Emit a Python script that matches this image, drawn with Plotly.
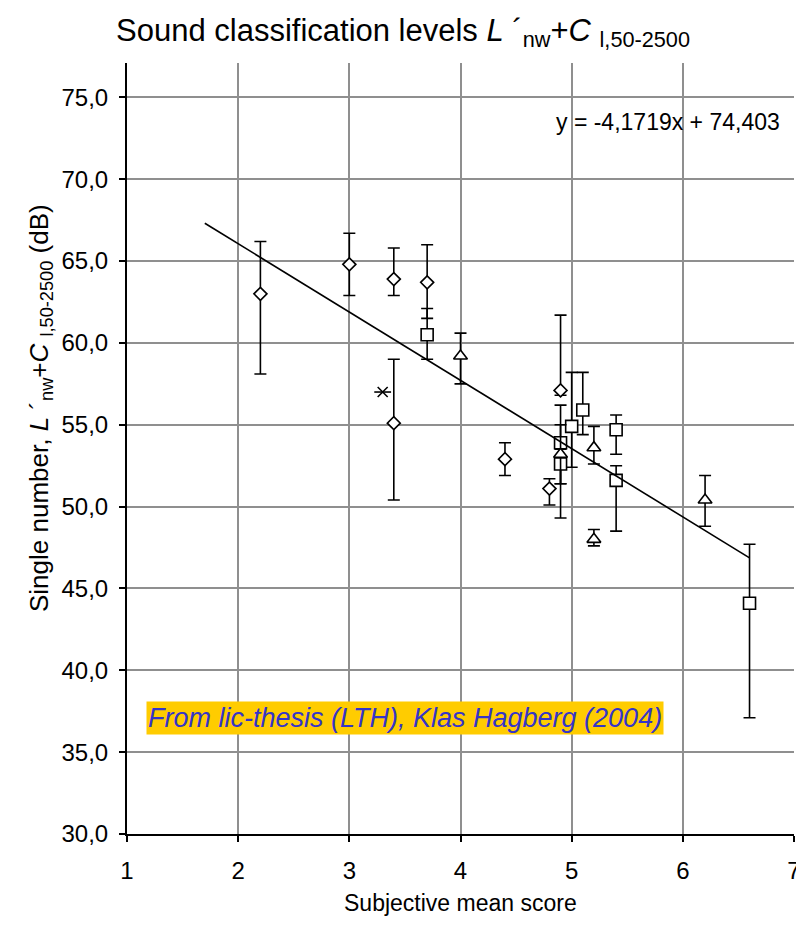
import plotly.graph_objects as go

# Diamonds series
dia_x = [2.2, 3.0, 3.4, 3.7, 3.4, 4.4, 4.8, 4.9]
dia_y = [63.0, 64.8, 63.9, 63.7, 55.1, 52.9, 51.1, 57.1]
dia_hi = [66.2, 66.7, 65.8, 66.0, 59.0, 53.9, 51.7, 61.7]
dia_lo = [58.1, 62.9, 62.9, 61.5, 50.4, 51.9, 50.1, 56.8]

# Squares series
sq_x = [3.7, 4.9, 4.9, 5.0, 5.1, 5.4, 5.4, 6.6]
sq_y = [60.5, 53.9, 52.6, 54.9, 55.9, 54.7, 51.6, 44.1]
sq_hi = [62.1, 56.2, 53.5, 58.2, 58.2, 55.6, 52.5, 47.7]
sq_lo = [59.0, 51.4, 49.3, 52.4, 54.4, 53.2, 48.5, 37.1]

# Triangles series
tri_x = [4.0, 4.9, 5.2, 5.2, 6.2]
tri_y = [59.2, 53.2, 53.6, 48.0, 50.4]
tri_hi = [60.6, 55.0, 54.9, 48.6, 51.9]
tri_lo = [57.5, 51.4, 52.6, 47.6, 48.8]

# Star point
star_x = [3.3]
star_y = [57.0]

# Linear trend line
slope = -4.1719
intercept = 74.403
fit_x = [1.7, 6.6]
fit_y = [slope * v + intercept for v in fit_x]

y_ticks = [30, 35, 40, 45, 50, 55, 60, 65, 70, 75]
x_ticks = [1, 2, 3, 4, 5, 6, 7]

FONT = "Arial, Liberation Sans, sans-serif"

# page body has an 8px margin; figure sized so that it fits the window
W, H = 796, 910
PL, PR, PT = 119, 10, 55
PH = 771                  # plot height
PB = H - PT - PH
PW = W - PL - PR          # plot width
OX, OY = 8 + PL, 8 + PT   # page position of plot's top-left


def px(xp):
    return (xp - OX) / PW


def py(yp):
    return (OY + PH - yp) / PH


fig = go.Figure()


def add_series(xs, ys, hi, lo, symbol, size):
    fig.add_trace(go.Scatter(
        x=xs, y=ys, mode="markers",
        marker=dict(symbol=symbol, size=size, color="white",
                    line=dict(color="black", width=1.6)),
        error_y=dict(type="data", symmetric=False,
                     array=[h - v for h, v in zip(hi, ys)],
                     arrayminus=[v - l for v, l in zip(ys, lo)],
                     color="black", thickness=1.6, width=6),
        showlegend=False, hoverinfo="x+y"))


add_series(dia_x, dia_y, dia_hi, dia_lo, "diamond", 10)
add_series(sq_x, sq_y, sq_hi, sq_lo, "square", 12)
add_series(tri_x, tri_y, tri_hi, tri_lo, "triangle-up", 12)

fig.add_trace(go.Scatter(x=star_x, y=star_y, mode="markers",
                         marker=dict(symbol="x-thin-open", size=10, color="black",
                                     line=dict(color="black", width=1.6)),
                         showlegend=False))
fig.add_trace(go.Scatter(x=star_x, y=star_y, mode="markers",
                         marker=dict(symbol="line-ew-open", size=12, color="black",
                                     line=dict(color="black", width=1.6)),
                         showlegend=False))

fig.add_trace(go.Scatter(x=fit_x, y=fit_y, mode="lines",
                         line=dict(color="black", width=1.6),
                         showlegend=False, hoverinfo="skip"))

fig.update_layout(
    width=W, height=H,
    margin=dict(l=PL, r=PR, t=PT, b=PB, autoexpand=False),
    paper_bgcolor="white", plot_bgcolor="white",
    separators=", ",
    font=dict(family=FONT, size=24, color="black"),
    title=dict(
        text="Sound classification levels <i>L</i> ´<sub>nw</sub>+<i>C</i> <sub>l,50-2500</sub>",
        x=(403 - 8) / W, xref="container", xanchor="center",
        y=1 - (30 - 8) / H, yref="container", yanchor="middle",
        font=dict(family=FONT, size=31, color="black")),
    xaxis=dict(range=[1, 7], tickvals=x_ticks, ticktext=[str(v) for v in x_ticks],
               showgrid=True, gridcolor="#8f8f8f", gridwidth=2,
               showline=True, linecolor="black", linewidth=2,
               ticks="outside", ticklen=6, tickwidth=1.5, tickcolor="black",
               ticklabelstandoff=8, zeroline=False, automargin=False,
               ticklabeloverflow="allow",
               tickfont=dict(size=24)),
    yaxis=dict(range=[30, 77.1], tickvals=y_ticks, tickformat=".1f",
               showgrid=True, gridcolor="#8f8f8f", gridwidth=2,
               showline=True, linecolor="black", linewidth=2,
               ticks="outside", ticklen=6, tickwidth=1.5, tickcolor="black",
               ticklabelstandoff=6, zeroline=False, automargin=False,
               tickfont=dict(size=24)),
    annotations=[
        dict(text="y = -4,1719x + 74,403", xref="paper", yref="paper",
             x=px(782), y=py(122), xanchor="right", yanchor="middle",
             showarrow=False, font=dict(size=23)),
        dict(text="<i>From lic-thesis (LTH), Klas Hagberg (2004)</i>",
             xref="paper", yref="paper",
             x=px(146), y=py(718),
             xanchor="left", yanchor="middle", showarrow=False,
             bgcolor="#FFCC00", borderpad=1,
             font=dict(size=27, color="#3535C8")),
        dict(text="Single number, <i>L</i> ´<sub>nw</sub>+<i>C</i> <sub>l,50-2500</sub> (dB)",
             xref="paper", yref="paper", x=px(40), y=py(408),
             xanchor="center", yanchor="middle", textangle=-90,
             showarrow=False, font=dict(size=26)),
        dict(text="Subjective mean score", xref="paper", yref="paper",
             x=px(460), y=py(903), xanchor="center", yanchor="middle",
             showarrow=False, font=dict(size=23)),
    ],
)

fig.write_html("out.html")
